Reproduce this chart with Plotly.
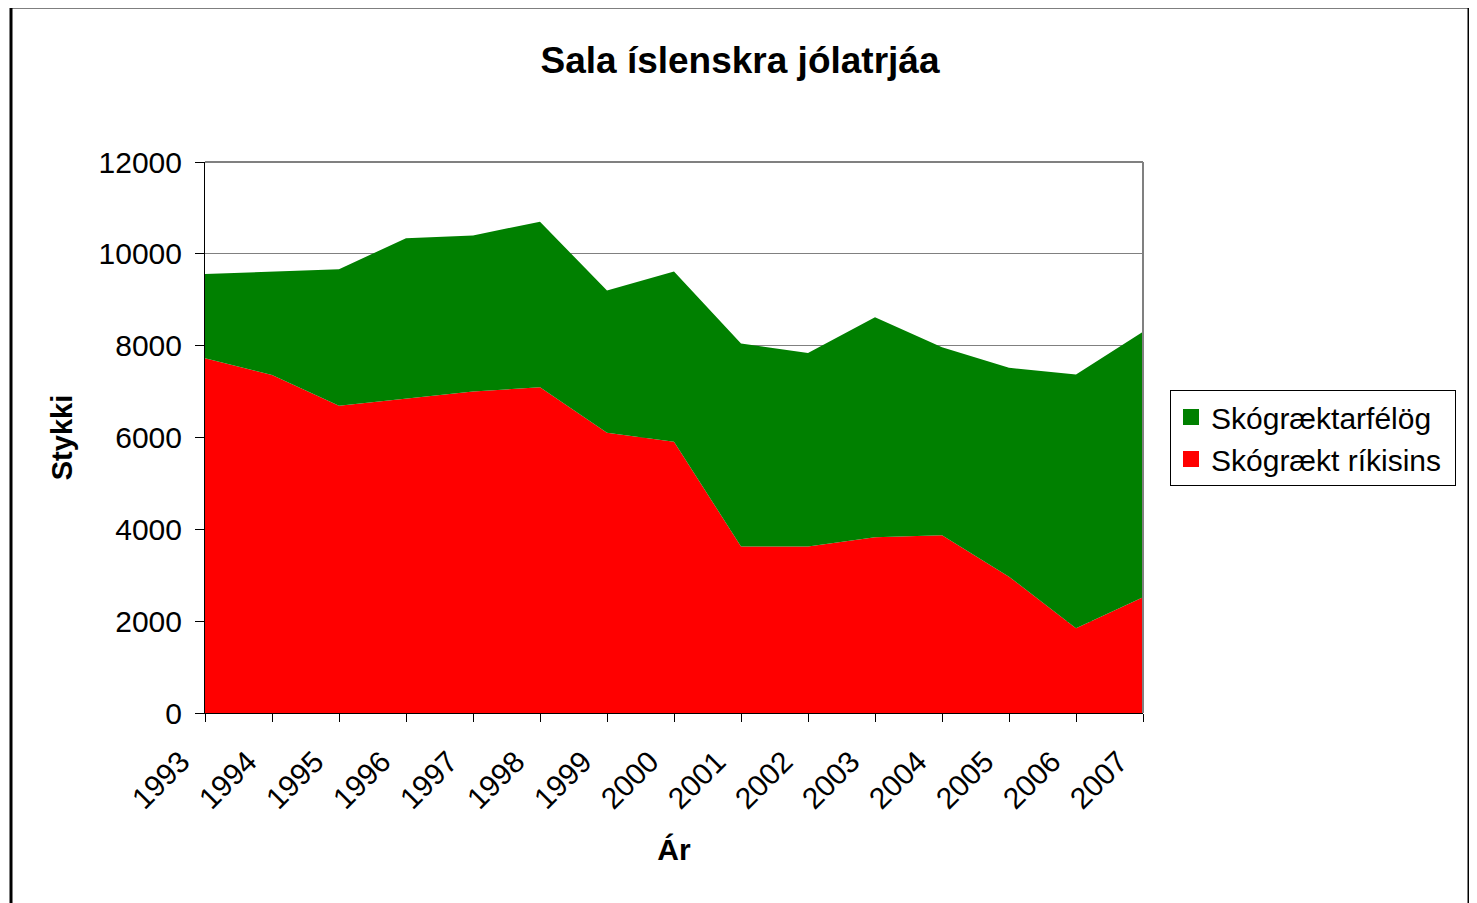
import plotly.graph_objects as go

years = [1993, 1994, 1995, 1996, 1997, 1998, 1999, 2000, 2001, 2002, 2003, 2004, 2005, 2006, 2007]
rikisins = [7725, 7360, 6690, 6840, 7000, 7095, 6105, 5910, 3625, 3625, 3825, 3870, 2970, 1845, 2520]
total = [9560, 9610, 9665, 10340, 10400, 10700, 9200, 9615, 8045, 7840, 8620, 7965, 7520, 7370, 8305]
felog = [t - r for t, r in zip(total, rikisins)]
y_ticks = [0, 2000, 4000, 6000, 8000, 10000, 12000]

FONT = "Liberation Sans, Arial, sans-serif"
GREEN = "#008000"
RED = "#FF0000"
PAD = "\u00a0"

fig = go.Figure()
fig.add_trace(go.Scatter(x=years, y=rikisins, name="Skógrækt ríkisins", mode="lines",
                         line=dict(width=0, color=RED), fillcolor=RED,
                         stackgroup="one", showlegend=False))
fig.add_trace(go.Scatter(x=years, y=felog, name="Skógræktarfélög", mode="lines",
                         line=dict(width=0, color=GREEN), fillcolor=GREEN,
                         stackgroup="one", showlegend=False))
# legend entries (square swatches)
fig.add_trace(go.Scatter(x=[None], y=[None], name="Skógrækt ríkisins" + PAD, mode="markers",
                         marker=dict(symbol="square", size=18, color=RED)))
fig.add_trace(go.Scatter(x=[None], y=[None], name="Skógræktarfélög" + PAD, mode="markers",
                         marker=dict(symbol="square", size=18, color=GREEN)))

OFF = 8  # page body margin
W, H = 1477, 903
L, R, T, B = 205 - OFF, 1143 - OFF, 162 - OFF, 713 - OFF
pw, ph = R - L, B - T

def px(x):
    return (x - OFF - L) / pw

def py(y):
    return (B - (y - OFF)) / ph

fig.update_layout(
    width=W, height=H,
    margin=dict(l=L, r=W - R, t=T, b=H - B, pad=0),
    paper_bgcolor="white", plot_bgcolor="white",
    font=dict(family=FONT, color="black", size=28),
    title=dict(text="<b>Sala íslenskra jólatrjáa</b>", x=px(740), xref="paper", xanchor="center",
               y=1 - (60 - OFF) / H, yanchor="middle", font=dict(size=37, family=FONT)),
    showlegend=True,
    legend=dict(x=px(1170), y=py(438), xanchor="left", yanchor="middle",
                traceorder="reversed", bordercolor="black", borderwidth=1,
                font=dict(size=30, family=FONT), bgcolor="white",
                itemsizing="trace", itemwidth=30),
    xaxis=dict(range=[1993, 2007], tickvals=years, ticktext=[str(y) for y in years],
               tickangle=-45, ticks="outside", ticklen=8, tickcolor="black",
               showline=True, linecolor="black", linewidth=1, showgrid=False, zeroline=False,
               tickfont=dict(size=30, family=FONT),
               ticklabelstandoff=10, ticklabelshift=-24,
               title=dict(text="<b>Ár</b>", font=dict(size=30, family=FONT), standoff=24)),
    yaxis=dict(range=[0, 12000], tickvals=y_ticks, ticktext=[str(v) for v in y_ticks],
               ticks="outside", ticklen=9, tickcolor="black",
               showline=True, linecolor="black", linewidth=1,
               showgrid=True, gridcolor="#808080", gridwidth=1, zeroline=False,
               tickfont=dict(size=30, family=FONT), ticklabelstandoff=7,
               title=dict(text="<b>Stykki</b>", font=dict(size=29, family=FONT), standoff=17)),
    shapes=[
        dict(type="line", xref="paper", yref="paper", x0=0, x1=1, y0=1, y1=1,
             line=dict(color="#808080", width=2), layer="above"),
        dict(type="line", xref="paper", yref="paper", x0=1, x1=1, y0=0, y1=1,
             line=dict(color="#808080", width=2), layer="above"),
        dict(type="rect", xref="paper", yref="paper", x0=px(11), x1=px(1469),
             y0=py(930), y1=py(7), line=dict(color="black", width=3), layer="above"),
    ],
)

fig.write_html("out.html")
